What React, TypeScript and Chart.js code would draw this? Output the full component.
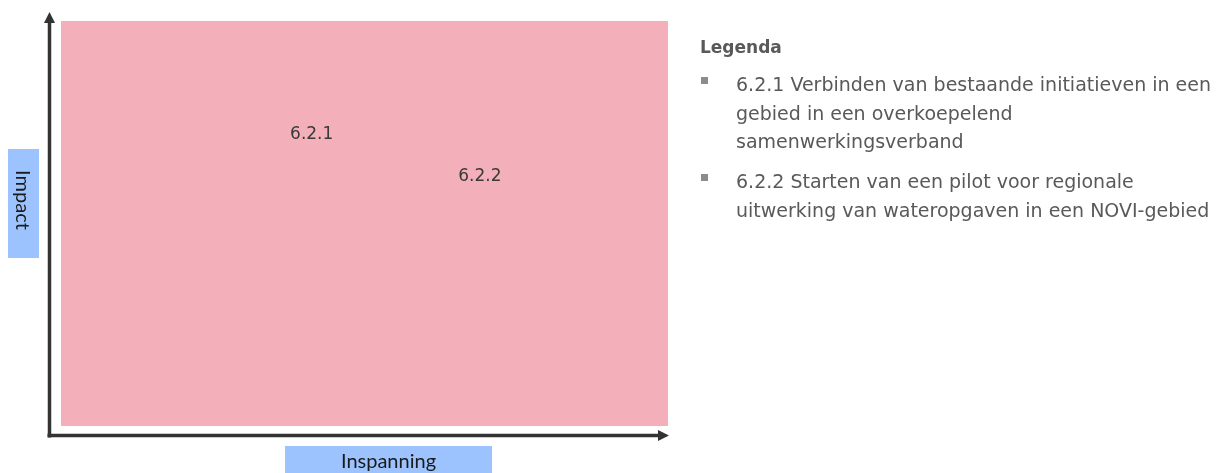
import React, { useEffect, useRef } from 'react';
import { Chart, registerables } from 'chart.js';

Chart.register(...registerables);

const pointLabels = ['6.2.1', '6.2.2'];
const effortValues = [4.13, 6.9];
const impactValues = [7.2, 6.17];
const xAxisTitle = 'Inspanning';
const yAxisTitle = 'Impact';
const legendTitle = 'Legenda';
const legendItems = [
  ['6.2.1 Verbinden van bestaande initiatieven in een', 'gebied in een overkoepelend', 'samenwerkingsverband'],
  ['6.2.2 Starten van een pilot voor regionale', 'uitwerking van wateropgaven in een NOVI-gebied'],
];

const PINK = '#F4B0BA';
const BLUE = '#9DC3FF';
const AXIS = '#333333';

const matrixPlugin = {
  id: 'matrixPlugin',
  beforeDatasetsDraw(chart: any) {
    const { ctx, chartArea } = chart;
    ctx.save();
    ctx.fillStyle = PINK;
    ctx.fillRect(chartArea.left, chartArea.top, chartArea.right - chartArea.left, chartArea.bottom - chartArea.top);
    ctx.restore();
  },
  afterDraw(chart: any) {
    const { ctx, chartArea, scales } = chart;
    ctx.save();
    const ax = chartArea.left - 11.5;
    const ay = chartArea.bottom + 9.5;
    ctx.strokeStyle = AXIS;
    ctx.fillStyle = AXIS;
    ctx.lineWidth = 3.5;
    ctx.beginPath();
    ctx.moveTo(ax, ay + 2);
    ctx.lineTo(ax, chartArea.top + 2);
    ctx.stroke();
    ctx.beginPath();
    ctx.moveTo(ax, chartArea.top - 9);
    ctx.lineTo(ax - 5.5, chartArea.top + 2);
    ctx.lineTo(ax + 5.5, chartArea.top + 2);
    ctx.closePath();
    ctx.fill();
    ctx.beginPath();
    ctx.moveTo(ax - 2, ay);
    ctx.lineTo(chartArea.right - 10, ay);
    ctx.stroke();
    ctx.beginPath();
    ctx.moveTo(chartArea.right + 1, ay);
    ctx.lineTo(chartArea.right - 10, ay - 5.5);
    ctx.lineTo(chartArea.right - 10, ay + 5.5);
    ctx.closePath();
    ctx.fill();

    ctx.fillStyle = '#3a3a3a';
    ctx.font = '17px "DejaVu Sans"';
    ctx.textAlign = 'center';
    ctx.textBaseline = 'middle';
    pointLabels.forEach((lab, i) => {
      const px = scales.x.getPixelForValue(effortValues[i]);
      const py = scales.y.getPixelForValue(impactValues[i]);
      ctx.fillText(lab, px, py + 0.5);
    });

    ctx.fillStyle = BLUE;
    ctx.fillRect(8, 149, 31, 109);
    ctx.fillRect(285, 446, 207, 30);
    ctx.fillStyle = '#1a1a1a';
    ctx.font = '20px Lato';
    ctx.textAlign = 'center';
    ctx.textBaseline = 'alphabetic';
    ctx.fillText(xAxisTitle, 388.5, 467.5);
    ctx.translate(23.5, 200);
    ctx.rotate(Math.PI / 2);
    ctx.textBaseline = 'middle';
    ctx.fillText(yAxisTitle, 0, 1);
    ctx.restore();
  },
};

export default function App() {
  const canvasRef = useRef<HTMLCanvasElement>(null);

  useEffect(() => {
    const canvas = canvasRef.current;
    if (!canvas) return;
    const chart = new Chart(canvas, {
      type: 'scatter',
      data: {
        datasets: [
          {
            label: 'Maatregelen',
            data: pointLabels.map((_, i) => ({ x: effortValues[i], y: impactValues[i] })),
            pointRadius: 0,
            pointHoverRadius: 0,
          },
        ],
      },
      options: {
        animation: false,
        responsive: false,
        maintainAspectRatio: false,
        layout: { padding: { left: 61, top: 21, right: 556, bottom: 47 } },
        scales: {
          x: { min: 0, max: 10, display: false },
          y: { min: 0, max: 10, display: false },
        },
        plugins: { legend: { display: false }, tooltip: { enabled: false } },
      },
      plugins: [matrixPlugin],
    });
    return () => chart.destroy();
  }, []);

  const base: React.CSSProperties = {
    fontFamily: '"DejaVu Sans", sans-serif',
    color: '#595959',
    lineHeight: '28.5px',
    whiteSpace: 'nowrap',
  };

  return (
    <div style={{ position: 'absolute', left: 0, top: 0, width: 1224, height: 473, background: '#fff', overflow: 'hidden' }}>
      <canvas ref={canvasRef} width={1224} height={473} style={{ position: 'absolute', left: 0, top: 0 }} />
      <div style={{ position: 'absolute', left: 700, top: 33, ...base, fontSize: '17px', fontWeight: 'bold' }}>{legendTitle}</div>
      <div style={{ position: 'absolute', left: 701, top: 70, ...base, fontSize: '19px' }}>
        {legendItems.map((lines, i) => (
          <div key={i} style={{ position: 'relative', marginTop: i === 0 ? 0 : 11.5, paddingLeft: 35 }}>
            <span style={{ position: 'absolute', left: 0, top: 7, width: 7, height: 7, background: '#8c8c8c' }} />
            {lines.map((l, j) => (
              <div key={j}>{l}</div>
            ))}
          </div>
        ))}
      </div>
    </div>
  );
}
